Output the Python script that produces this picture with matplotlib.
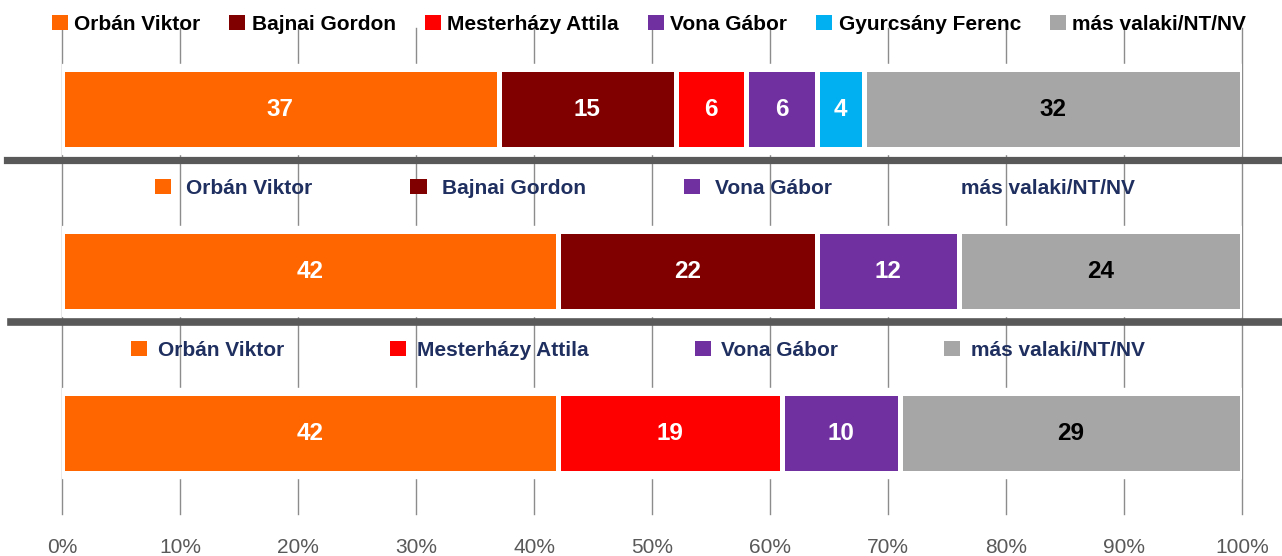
import matplotlib; matplotlib.use('Agg')
import matplotlib.pyplot as plt
from matplotlib.lines import Line2D
from matplotlib.patches import Patch

plt.rcParams['font.family'] = ['Liberation Sans', 'DejaVu Sans']

# panel data (top to bottom)
names_1 = ['Orbán Viktor', 'Bajnai Gordon', 'Mesterházy Attila', 'Vona Gábor', 'Gyurcsány Ferenc', 'más valaki/NT/NV']
values_1 = [37, 15, 6, 6, 4, 32]
names_2 = ['Orbán Viktor', 'Bajnai Gordon', 'Vona Gábor', 'más valaki/NT/NV']
values_2 = [42, 22, 12, 24]
names_3 = ['Orbán Viktor', 'Mesterházy Attila', 'Vona Gábor', 'más valaki/NT/NV']
values_3 = [42, 19, 10, 29]
ticks = list(range(0, 101, 10))
tick_labels = [f'{t}%' for t in ticks]

colors = {
    'Orbán Viktor': '#FF6600',
    'Bajnai Gordon': '#800000',
    'Mesterházy Attila': '#FF0000',
    'Vona Gábor': '#7030A0',
    'Gyurcsány Ferenc': '#00B0F0',
    'más valaki/NT/NV': '#A6A6A6',
}

W, H = 1282, 556
fig = plt.figure(figsize=(W / 100, H / 100), dpi=100)
ax = fig.add_axes([62 / W, 1 - 514 / H, 1180 / W, (514 - 28) / H])

panels = [(names_1, values_1), (names_2, values_2), (names_3, values_3)]
for i, (names, vals) in enumerate(panels):
    ax.axhspan(i - 0.275, i + 0.275, color='white', zorder=1)
    left = 0
    for name, v in zip(names, vals):
        bars = ax.barh(i, v, left=left, height=0.49, color=colors[name],
                       edgecolor='white', linewidth=3.6, zorder=3)
        txt = 'black' if name == 'más valaki/NT/NV' else 'white'
        ax.bar_label(bars, labels=[str(v)], label_type='center', color=txt,
                     fontsize=17.5, fontweight='bold')
        left += v

ax.set_xlim(0, 100)
ax.set_ylim(2.5, -0.5)
ax.set_xticks(ticks)
ax.set_xticklabels(tick_labels)
ax.set_yticks([])
ax.tick_params(axis='x', length=0, pad=17, labelsize=15, labelcolor='#595959')
for s in ax.spines.values():
    s.set_visible(False)
ax.set_axisbelow(True)
ax.grid(axis='x', color='#8C8C8C', linewidth=1)
for gl in ax.get_xgridlines():
    gl.set_clip_on(False)

# one legend per panel
def add_legend(names, x_px, y_px, spacing, textpad, textcolor, hidden=()):
    handles = [Patch(facecolor='none' if n in hidden else colors[n], edgecolor='none')
               for n in names]
    fig.legend(handles, names, loc='center', bbox_to_anchor=(x_px / W, 1 - y_px / H),
               ncol=len(names), frameon=False,
               prop={'weight': 'bold', 'size': 15}, labelcolor=textcolor,
               handlelength=0.77, handleheight=0.72, handletextpad=textpad,
               columnspacing=spacing)

add_legend(names_1, 649, 24, 1.4, 0.3, 'black')
add_legend(names_2, 645, 188, 4.72, 0.72, '#1F2F5F', hidden=('más valaki/NT/NV',))
add_legend(names_3, 638, 350, 5.1, 0.5, '#1F2F5F')

# thick separators between panels
fig.add_artist(Line2D([7 / W, 1], [1 - 159.5 / H] * 2, color='#595959', lw=5.2))
fig.add_artist(Line2D([11 / W, 1], [1 - 322 / H] * 2, color='#595959', lw=5.5))

fig.savefig('out.png', dpi=100)
